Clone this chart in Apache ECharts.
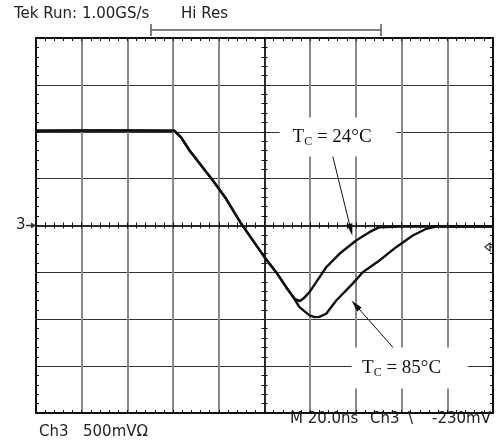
<!DOCTYPE html>
<html>
<head>
<meta charset="utf-8">
<script src="https://cdn.jsdelivr.net/npm/echarts@6/dist/echarts.min.js"></script>
<style>
  html, body { margin: 0; padding: 0; background: #fff; }
  #chart { width: 500px; height: 445px; }
</style>
</head>
<body>
<div id="chart"></div>
<script>
// time in ns (20 ns/div), voltage in V (500 mV/div)
var fallT = [-100, -70, -39.4, -36.5, -32.8, -22.6, -16.8, -10.5, 0, 5.1, 9.5];
var fallV = [1.01, 1.015, 1.01, 0.94, 0.80, 0.48, 0.285, 0.03, -0.338, -0.498, -0.658];

var t24 = [13.1, 15.3, 17, 19.7, 23, 27, 32.8, 40.1, 45.9, 50.3, 60, 100];
var v24 = [-0.78, -0.807, -0.78, -0.711, -0.59, -0.445, -0.302, -0.16, -0.071, -0.018, -0.01, -0.01];

var t85 = [12.5, 15.3, 19.7, 21.9, 24, 27, 31.4, 38.6, 43, 50.3, 57.6, 64.9, 70.8, 75.1, 100];
var v85 = [-0.76, -0.871, -0.959, -0.977, -0.975, -0.941, -0.80, -0.62, -0.498, -0.373, -0.231, -0.107, -0.035, -0.011, -0.01];

var xMin = -100, xMax = 100, xStep = 20;
var yMin = -2, yMax = 2, yStep = 0.5;
var trigLevel = -0.23;

function pairs(ts, vs) {
  return ts.map(function(t, i) { return [t, vs[i]]; });
}
var data24 = pairs(fallT, fallV).concat(pairs(t24, v24));
var data85 = pairs(fallT, fallV).concat(pairs(t85, v85));

var chart = echarts.init(document.getElementById('chart'), null, { renderer: 'canvas' });

var G = { left: 36, top: 38, width: 457, height: 375 };
var midY = G.top + G.height / 2;
var midX = G.left + G.width / 2;

var ink = '#111';
var tickLine = { color: ink, width: 1 };

function borderX(grid, pos, split) {
  return {
    type: 'value', gridIndex: grid, position: pos, min: xMin, max: xMax, interval: xStep,
    axisLine: { show: true, onZero: false, lineStyle: { color: ink, width: 2 } },
    axisTick: { show: true, inside: true, length: 3, lineStyle: tickLine },
    minorTick: { show: true, splitNumber: 5, length: 3, lineStyle: tickLine },
    axisLabel: { show: false },
    splitLine: split ? { show: true, lineStyle: { color: '#8a8a8a', width: 2 } } : { show: false }
  };
}
function borderY(grid, pos, split) {
  return {
    type: 'value', gridIndex: grid, position: pos, min: yMin, max: yMax, interval: yStep,
    axisLine: { show: true, onZero: false, lineStyle: { color: ink, width: 2 } },
    axisTick: { show: true, inside: true, length: 3, lineStyle: tickLine },
    minorTick: { show: true, splitNumber: 5, length: 3, lineStyle: tickLine },
    axisLabel: { show: false },
    splitLine: split ? { show: true, lineStyle: { color: '#333', width: 1 } } : { show: false }
  };
}
function centreX(grid, pos) {
  var a = borderX(grid, pos, false);
  a.axisLine.lineStyle = { color: '#222', width: 1.5 };
  return a;
}
function centreY(grid, pos) {
  var a = borderY(grid, pos, false);
  a.axisLine.lineStyle = { color: '#222', width: 1.5 };
  return a;
}
function hiddenX(grid) { return { type: 'value', gridIndex: grid, min: xMin, max: xMax, show: false }; }
function hiddenY(grid) { return { type: 'value', gridIndex: grid, min: yMin, max: yMax, show: false }; }

var serif = '"Liberation Serif", "DejaVu Serif", serif';
function tcLabel(temp, dx) {
  return {
    show: true,
    offset: [dx, 0],
    formatter: '{t|T}{s|C}{t| = ' + temp + '°C}',
    rich: {
      t: { fontFamily: serif, fontSize: 19, color: ink, lineHeight: 22 },
      s: { fontFamily: serif, fontSize: 12, color: ink, lineHeight: 12, verticalAlign: 'bottom' }
    }
  };
}

var lineStyle = { color: ink, width: 2.4 };

chart.setOption({
  animation: false,
  backgroundColor: '#fff',
  grid: [
    { left: G.left, top: G.top, width: G.width, height: G.height },
    { left: G.left, top: G.top, width: G.width, height: G.height / 2 },
    { left: G.left, top: midY, width: G.width, height: G.height / 2 },
    { left: G.left, top: G.top, width: G.width / 2, height: G.height },
    { left: midX, top: G.top, width: G.width / 2, height: G.height }
  ],
  xAxis: [
    borderX(0, 'bottom', true),
    borderX(0, 'top', false),
    centreX(1, 'bottom'),
    centreX(2, 'top'),
    hiddenX(3),
    hiddenX(4)
  ],
  yAxis: [
    borderY(0, 'left', true),
    borderY(0, 'right', false),
    hiddenY(1),
    hiddenY(2),
    centreY(3, 'right'),
    centreY(4, 'left')
  ],
  series: [
    {
      name: 'TC = 24°C', type: 'line', xAxisIndex: 0, yAxisIndex: 0,
      data: data24, showSymbol: false, lineStyle: lineStyle, z: 5,
      markPoint: {
        silent: true, animation: false,
        data: [{
          coord: [32.2, 0.943], symbol: 'rect', symbolSize: [117, 39],
          itemStyle: { color: '#fff' }, label: tcLabel(24, -6)
        }]
      },
      markLine: {
        silent: true, animation: false, label: { show: false },
        lineStyle: { color: ink, width: 1, type: 'solid' },
        data: [[
          { coord: [29.8, 0.746], symbol: 'none' },
          { coord: [37.8, -0.045], symbol: 'triangle', symbolSize: [6, 12] }
        ]]
      }
    },
    {
      name: 'TC = 85°C', type: 'line', xAxisIndex: 0, yAxisIndex: 0,
      data: data85, showSymbol: false, lineStyle: lineStyle, z: 5,
      markPoint: {
        silent: true, animation: false,
        data: [{
          coord: [63.5, -1.519], symbol: 'rect', symbolSize: [116, 41],
          itemStyle: { color: '#fff' }, label: tcLabel(85, -8)
        }]
      },
      markLine: {
        silent: true, animation: false, label: { show: false },
        lineStyle: { color: ink, width: 1, type: 'solid' },
        data: [[
          { coord: [58.2, -1.354], symbol: 'none' },
          { coord: [39.8, -0.847], symbol: 'triangle', symbolSize: [6, 12] }
        ]]
      }
    }
  ]
});

// scope read-out and markers
var gndY = chart.convertToPixel({ yAxisIndex: 0 }, 0);
var trigY = chart.convertToPixel({ yAxisIndex: 0 }, trigLevel);
var scopeFont = { fontFamily: '"DejaVu Sans", sans-serif', fontSize: 15, fill: '#222' };
function txt(x, y, s) {
  return { type: 'text', x: x, y: y, style: Object.assign({ text: s, verticalAlign: 'middle' }, scopeFont) };
}
var grey = { stroke: '#555', lineWidth: 1.5 };

chart.setOption({
  graphic: [
    txt(14, 14, 'Tek Run: 1.00GS/s'),
    txt(181, 14, 'Hi Res'),
    { type: 'line', shape: { x1: 151, y1: 30, x2: 381, y2: 30 }, style: grey },
    { type: 'line', shape: { x1: 151, y1: 24, x2: 151, y2: 36 }, style: grey },
    { type: 'line', shape: { x1: 381, y1: 24, x2: 381, y2: 36 }, style: grey },
    txt(290, 419, 'M 20.0ns'),
    txt(370, 419, 'Ch3'),
    txt(408, 419, '\\'),
    txt(432, 419, '-230mV'),
    txt(39, 432, 'Ch3'),
    txt(83, 432, '500mV\u03a9'),
    txt(16, gndY, '3'),
    { type: 'line', shape: { x1: 26, y1: gndY, x2: 32, y2: gndY }, style: { stroke: '#333', lineWidth: 1.5 } },
    { type: 'polygon', shape: { points: [[31, gndY - 3], [36, gndY], [31, gndY + 3]] }, style: { fill: '#333' } },
    { type: 'polygon', shape: { points: [[485, trigY], [490, trigY - 4], [490, trigY + 4]] }, style: { fill: '#fff', stroke: '#333', lineWidth: 1.2 } },
    { type: 'line', shape: { x1: 490, y1: trigY, x2: 493, y2: trigY }, style: { stroke: '#333', lineWidth: 1.2 } }
  ]
});

window.addEventListener('resize', function() { chart.resize(); });
</script>
</body>
</html>
